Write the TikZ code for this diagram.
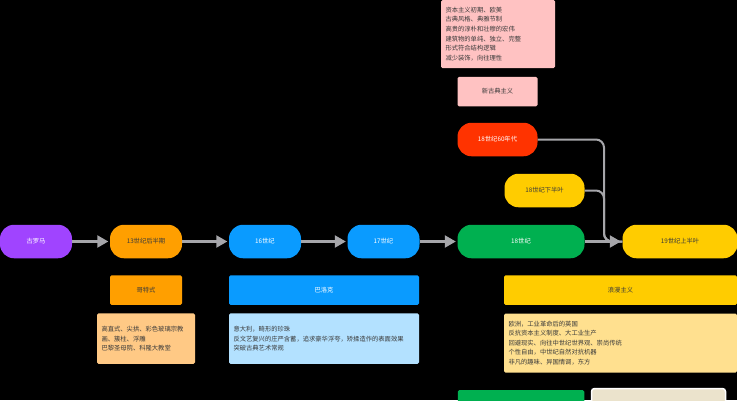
\documentclass[tikz,border=0pt]{standalone}
\usepackage{fontspec}
\usepackage{xcolor}
\usetikzlibrary{arrows.meta}
\setmainfont{Noto Sans CJK SC}
\definecolor{pPurple}{HTML}{A044FF}
\definecolor{pOrange}{HTML}{FF9F00}
\definecolor{pBlue}{HTML}{0A9BFF}
\definecolor{pRed}{HTML}{FF3300}
\definecolor{pYellow}{HTML}{FFCC00}
\definecolor{pGreen}{HTML}{00B050}
\definecolor{pPink}{HTML}{FFC2C2}
\definecolor{lOrange}{HTML}{FFC985}
\definecolor{lBlue}{HTML}{B3E1FF}
\definecolor{lYellow}{HTML}{FFE08F}
\definecolor{pBeige}{HTML}{EBE3CC}
\definecolor{pLine}{HTML}{A6A6AA}
\definecolor{pInk}{HTML}{3A3A3A}
\tikzset{
    era/.style={rounded corners=14pt,inner sep=0pt,minimum height=33.5pt,font=\fontsize{6.3pt}{9.6pt}\selectfont},
    tagbox/.style={rounded corners=1.5pt,inner sep=0pt,minimum height=29.5pt,font=\fontsize{6.3pt}{9.6pt}\selectfont},
    notebox/.style={rounded corners=1.5pt,inner xsep=4.5pt,inner ysep=0pt,align=left,text=pInk,font=\fontsize{6.3pt}{9.6pt}\selectfont},
    linkline/.style={draw=pLine,line width=2.2pt,-{Triangle[length=11pt,width=12pt]},shorten >=1.5pt},
    mergeline/.style={draw=pLine,line width=2pt,rounded corners=8pt}
}
\begin{document}
\begin{tikzpicture}[x=1pt,y=-1pt]
    \fill[black] (0,0) rectangle (737,400);
    \useasboundingbox (0,0) rectangle (737,400);
    \clip (0,0) rectangle (737,400);

    \node[era,fill=pPurple,text=white,minimum width=72pt] (rome) at (36,241.5) {古罗马};
    \node[era,fill=pOrange,text=pInk,minimum width=72pt] (c13) at (146,241.5) {13世纪后半期};
    \node[era,fill=pBlue,text=white,minimum width=72pt] (c16) at (265,241.5) {16世纪};
    \node[era,fill=pBlue,text=white,minimum width=72pt] (c17) at (383.5,241.5) {17世纪};
    \node[era,fill=pGreen,text=white,minimum width=127pt] (c18) at (521,241.5) {18世纪};
    \node[era,fill=pYellow,text=pInk,minimum width=115pt] (c19) at (680,241.5) {19世纪上半叶};
    \node[era,fill=pRed,text=white,minimum width=80pt] (c18s) at (497.5,139.5) {18世纪60年代};
    \node[era,fill=pYellow,text=pInk,minimum width=80pt] (c18l) at (544.5,190.5) {18世纪下半叶};

    \node[tagbox,fill=pOrange,text=pInk,minimum width=72pt] (gothic) at (146,290.2) {哥特式};
    \node[tagbox,fill=pBlue,text=white,minimum width=190pt] (baroque) at (324,290.2) {巴洛克};
    \node[tagbox,fill=pYellow,text=pInk,minimum width=233pt] (romantic) at (620.5,290.2) {浪漫主义};
    \node[tagbox,fill=pPink,text=pInk,minimum width=80pt] (neo) at (497.5,91.5) {新古典主义};

    \node[notebox,fill=lOrange,text width=89pt,minimum height=50.5pt] (gothicnote) at (146,338.7) {高直式、尖拱、彩色玻璃宗教\\画、簇柱、浮雕\\巴黎圣母院、科隆大教堂};
    \node[notebox,fill=lBlue,text width=181pt,minimum height=50.5pt] (baroquenote) at (324,338.7) {意大利，畸形的珍珠\\反文艺复兴的庄严含蓄，追求豪华浮夸，矫揉造作的表面效果\\突破古典艺术常规};
    \node[notebox,fill=lYellow,text width=224pt,minimum height=59pt] (romanticnote) at (620.5,343) {欧洲，工业革命后的英国\\反抗资本主义制度、大工业生产\\回避现实、向往中世纪世界观、崇尚传统\\个性自由，中世纪自然对抗机器\\非凡的趣味、异国情调，东方};
    \node[notebox,fill=pPink,text width=105pt,minimum height=68pt] (neonote) at (498,34) {资本主义初期、欧美\\古典风格、典雅节制\\高贵的淳朴和壮穆的宏伟\\建筑物的单纯、独立、完整\\形式符合结构逻辑\\减少装饰，向往理性};

    \node[tagbox,fill=pGreen,minimum width=126.5pt,minimum height=40pt] (bottom) at (521,410) {};
    \node[rounded corners=3pt,draw=white,line width=1.5pt,fill=pBeige,inner sep=0pt,minimum width=134pt,minimum height=40pt] (photo) at (658.5,408.5) {};

    \coordinate (bend) at (604,241.5);
    \draw[mergeline] (c18s.east) -| (bend) -- (c19.west);
    \draw[mergeline] (c18l.east) -| (bend) -- (c19.west);
    \draw[linkline] (rome) -- (c13);
    \draw[linkline] (c13) -- (c16);
    \draw[linkline] (c16) -- (c17);
    \draw[linkline] (c17) -- (c18);
    \draw[linkline] (c18) -- (c19);
\end{tikzpicture}
\end{document}
